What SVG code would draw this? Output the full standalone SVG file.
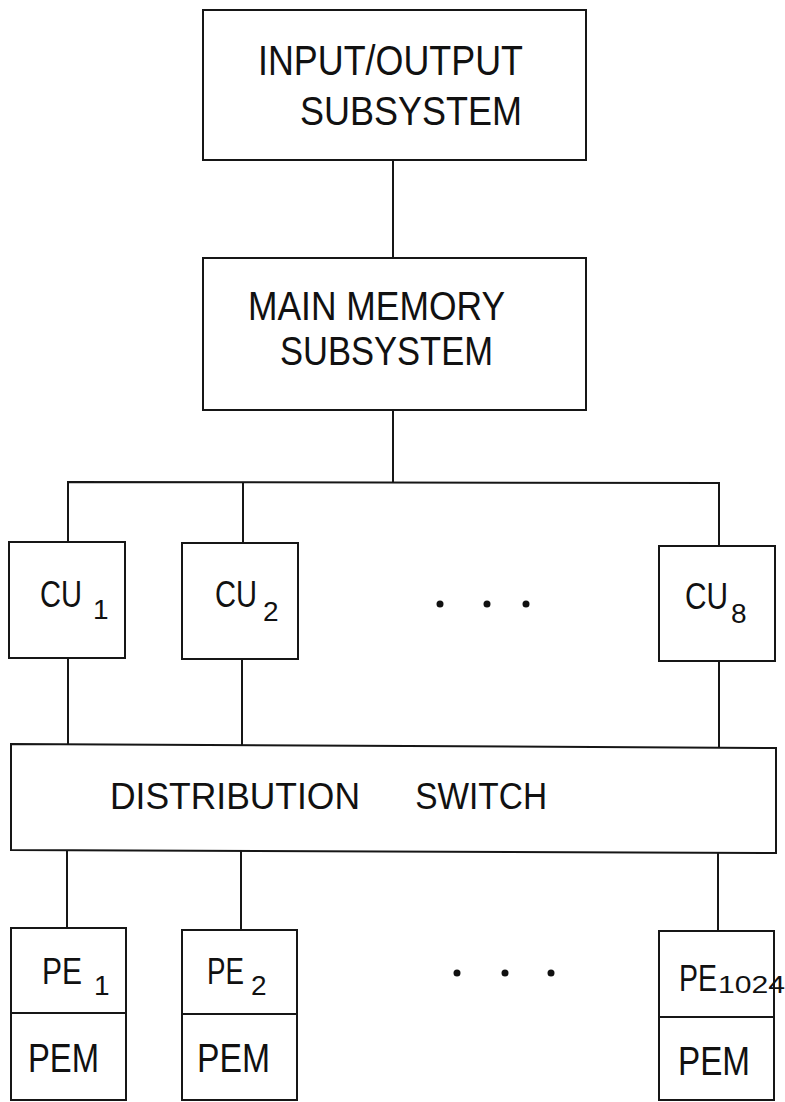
<svg xmlns="http://www.w3.org/2000/svg" width="785" height="1102" viewBox="0 0 785 1102">
<style>
.box{fill:none;stroke:#161616;stroke-width:2}
.ln{fill:none;stroke:#161616;stroke-width:2}
.t{font-family:"Liberation Sans",Arial,sans-serif;fill:#111}
.big{font-size:40px}
.mid{font-size:36px}
.sub{font-size:28px}
.dot{fill:#111}
</style>
<rect width="785" height="1102" fill="#fff"/>
<g id="connectors">
<line class="ln" x1="393" y1="160" x2="393" y2="258"/>
<line class="ln" x1="393" y1="410" x2="393" y2="482"/>
<polyline class="ln" points="68,542 68,482 719,483 719,546"/>
<line class="ln" x1="243" y1="482" x2="243" y2="543"/>
<line class="ln" x1="68" y1="658" x2="68" y2="745"/>
<line class="ln" x1="242" y1="659" x2="242" y2="745"/>
<line class="ln" x1="719" y1="661" x2="719" y2="747"/>
<line class="ln" x1="67" y1="851" x2="67" y2="928"/>
<line class="ln" x1="241" y1="851" x2="241" y2="930"/>
<line class="ln" x1="718" y1="852" x2="718" y2="931"/>
</g>
<g id="io">
<rect class="box" x="203" y="10" width="383" height="150"/>
<text class="t" style="font-size:42px" x="258" y="75" textLength="265" lengthAdjust="spacingAndGlyphs">INPUT/OUTPUT</text>
<text class="t big" x="300" y="125" textLength="222" lengthAdjust="spacingAndGlyphs">SUBSYSTEM</text>
</g>
<g id="mainmem">
<rect class="box" x="203" y="258" width="383" height="152"/>
<text class="t big" x="248" y="320" textLength="257" lengthAdjust="spacingAndGlyphs">MAIN  MEMORY</text>
<text class="t big" x="280" y="365" textLength="213" lengthAdjust="spacingAndGlyphs">SUBSYSTEM</text>
</g>
<g id="cu1">
<rect class="box" x="9" y="542" width="116" height="116"/>
<text class="t mid" x="40" y="607"><tspan textLength="42" lengthAdjust="spacingAndGlyphs">CU</tspan><tspan class="sub" x="93" y="619">1</tspan></text>
</g>
<g id="cu2">
<rect class="box" x="182" y="543" width="116" height="116"/>
<text class="t mid" x="215" y="607"><tspan textLength="42" lengthAdjust="spacingAndGlyphs">CU</tspan><tspan class="sub" x="263" y="621">2</tspan></text>
</g>
<g id="cudots">
<circle class="dot" cx="440" cy="604" r="3.5"/>
<circle class="dot" cx="487" cy="604" r="3.5"/>
<circle class="dot" cx="526" cy="604" r="3.5"/>
</g>
<g id="cu8">
<rect class="box" x="659" y="546" width="116" height="115"/>
<text class="t mid" x="685" y="609"><tspan textLength="43" lengthAdjust="spacingAndGlyphs">CU</tspan><tspan class="sub" x="731" y="623">8</tspan></text>
</g>
<g id="switch">
<polygon class="box" points="11,744 776,748 776,853 11,850"/>
<text class="t mid" y="809"><tspan x="110" textLength="250" lengthAdjust="spacingAndGlyphs">DISTRIBUTION</tspan><tspan x="406" textLength="141" lengthAdjust="spacingAndGlyphs"> SWITCH</tspan></text>
</g>
<g id="pe1">
<rect class="box" x="11" y="928" width="115" height="172"/>
<line class="ln" x1="11" y1="1013" x2="126" y2="1013"/>
<text class="t mid" x="42" y="984"><tspan textLength="40" lengthAdjust="spacingAndGlyphs">PE</tspan><tspan class="sub" x="94" y="995">1</tspan></text>
<text class="t big" x="28" y="1072" textLength="71" lengthAdjust="spacingAndGlyphs">PEM</text>
</g>
<g id="pe2">
<rect class="box" x="182" y="930" width="115" height="170"/>
<line class="ln" x1="182" y1="1014" x2="297" y2="1014"/>
<text class="t mid" x="207" y="984"><tspan textLength="37" lengthAdjust="spacingAndGlyphs">PE</tspan><tspan class="sub" x="251" y="995">2</tspan></text>
<text class="t big" x="197" y="1072" textLength="73" lengthAdjust="spacingAndGlyphs">PEM</text>
</g>
<g id="pedots">
<circle class="dot" cx="457" cy="973" r="3.5"/>
<circle class="dot" cx="505" cy="973" r="3.5"/>
<circle class="dot" cx="551" cy="973" r="3.5"/>
</g>
<g id="pe1024">
<rect class="box" x="659" y="931" width="115" height="169"/>
<line class="ln" x1="659" y1="1017" x2="774" y2="1017"/>
<text class="t mid" x="679" y="991"><tspan textLength="38" lengthAdjust="spacingAndGlyphs">PE</tspan><tspan x="718" y="993" style="font-size:23px" textLength="67" lengthAdjust="spacingAndGlyphs">1024</tspan></text>
<text class="t big" x="678" y="1075" textLength="72" lengthAdjust="spacingAndGlyphs">PEM</text>
</g>
</svg>
